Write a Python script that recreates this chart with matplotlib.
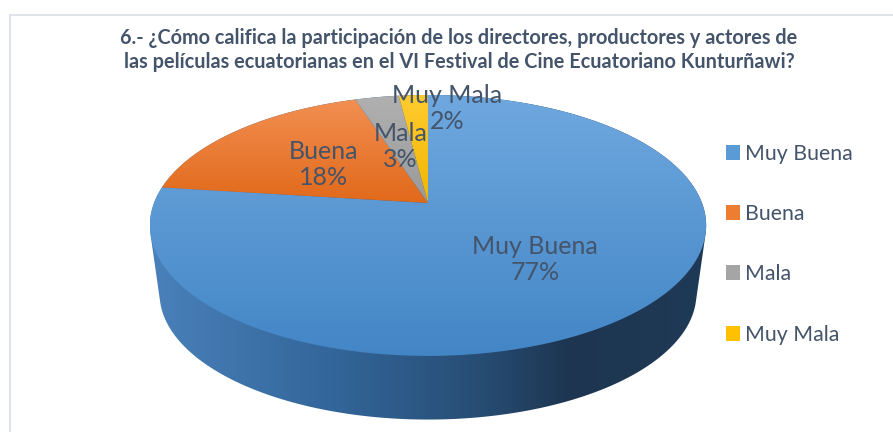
import numpy as np
import matplotlib.pyplot as plt
from matplotlib.patches import Polygon, Patch
from matplotlib.colors import to_rgb

plt.rcParams['font.family'] = ['Lato', 'DejaVu Sans']

categories = ['Muy Buena', 'Buena', 'Mala', 'Muy Mala']
percent = [77, 18, 3, 2]
title = ('6.- ¿Cómo califica la participación de los directores, productores y actores de\n'
         'las películas ecuatorianas en el VI Festival de Cine Ecuatoriano Kunturñawi?')

flat_colors = ['#5B9BD5', '#ED7D31', '#A5A5A5', '#FFC000']
# top/bottom shades for the gradient of each top face
top_shades = [('#6FA8DF', '#4386C6'), ('#F28F52', '#E1691A'),
              ('#B0B0B0', '#9A9A9A'), ('#FFCB30', '#F2B600')]
side_stops = [(150, '#4A81BA'), (330, '#33669A'), (480, '#274D74'),
              (570, '#1D3550'), (710, '#1F3A57')]
text_color = '#44546A'

W, H = 893, 432
fig = plt.figure(figsize=(W / 100, H / 100), dpi=100)
ax = fig.add_axes([0, 0, 1, 1])

# pie geometry in pixels (perspective view of a tilted disc)
cx, cy = 428, 203
a, b, k = 274, 126.6, 0.172
drop, shrink = 69, 0.965


def project(theta, r=1.0, dy=0.0, s=1.0):
    u, v = r * np.sin(theta), r * np.cos(theta)
    den = 1 + k * v
    return cx + a * s * u / den, cy + dy - b * s * v / den


def hull(pts):
    pts = sorted(set(map(tuple, np.round(pts, 3))))
    def cross(o, p, q):
        return (p[0] - o[0]) * (q[1] - o[1]) - (p[1] - o[1]) * (q[0] - o[0])
    lower, upper = [], []
    for p in pts:
        while len(lower) >= 2 and cross(lower[-2], lower[-1], p) <= 0:
            lower.pop()
        lower.append(p)
    for p in reversed(pts):
        while len(upper) >= 2 and cross(upper[-2], upper[-1], p) <= 0:
            upper.pop()
        upper.append(p)
    return np.array(lower[:-1] + upper[:-1])


def gradient_fill(pts, c0, c1, vertical=True, stops=None):
    patch = Polygon(pts, closed=True, facecolor='none', edgecolor='none')
    ax.add_patch(patch)
    x0, x1 = pts[:, 0].min(), pts[:, 0].max()
    y0, y1 = pts[:, 1].min(), pts[:, 1].max()
    n = 256
    if stops is not None:
        xs = np.linspace(x0, x1, n)
        sx = [s[0] for s in stops]
        cols = np.array([to_rgb(s[1]) for s in stops])
        img = np.stack([np.interp(xs, sx, cols[:, j]) for j in range(3)], axis=-1)[None, :, :]
    else:
        t = np.linspace(0, 1, n)[:, None]
        img = (1 - t) * np.array(to_rgb(c0)) + t * np.array(to_rgb(c1))
        img = img[:, None, :] if vertical else img[None, :, :]
    im = ax.imshow(img, extent=(x0, x1, y1, y0), origin='upper', aspect='auto',
                   interpolation='bilinear', zorder=2)
    im.set_clip_path(patch)


# side of the cylinder
th = np.linspace(0, 2 * np.pi, 400)
top_x, top_y = project(th)
bot_x, bot_y = project(th, dy=drop, s=shrink)
side = hull(np.concatenate([np.column_stack([top_x, top_y]),
                            np.column_stack([bot_x, bot_y])]))
gradient_fill(side, None, None, stops=side_stops)

# top faces
frac = np.array(percent) / sum(percent)
edges = np.concatenate([[0], np.cumsum(frac)]) * 2 * np.pi
for i in range(len(categories)):
    t = np.linspace(edges[i], edges[i + 1], max(3, int(frac[i] * 400)))
    xs, ys = project(t)
    pts = np.column_stack([np.r_[cx, xs], np.r_[cy, ys]])
    gradient_fill(pts, *top_shades[i])

# data labels (name line and percent line)
label_r = [0.55, 0.5, 0.5, 0.86]
label_dx = [0, -4, 0, 32]
for i, cat in enumerate(categories):
    mid = (edges[i] + edges[i + 1]) / 2
    lx, ly = project(mid, r=label_r[i])
    lx += label_dx[i]
    ax.text(lx, ly - 13, cat, ha='center', va='center',
            fontsize=18, color=text_color, zorder=5)
    ax.text(lx, ly + 13, f'{percent[i]}%', ha='center', va='center',
            fontsize=18, color=text_color, zorder=5)

ax.text(459, 50, title, ha='center', va='center', fontsize=14.3, fontweight='bold',
        color=text_color, linespacing=1.2, zorder=6)

handles = [Patch(facecolor=c, edgecolor='none') for c in flat_colors]
leg = ax.legend(handles, categories, loc='upper left', bbox_to_anchor=(717 / W, 1 - 135 / H),
                frameon=False, fontsize=15.3, handlelength=0.7, handleheight=0.7,
                handletextpad=0.2, labelspacing=1.9, borderaxespad=0)
for txt in leg.get_texts():
    txt.set_color(text_color)

# chart area border
ax.plot([10, W], [15, 15], color='#D9DEE6', lw=1.2, zorder=1)
ax.plot([10, 10], [15, H], color='#D9DEE6', lw=1.2, zorder=1)

ax.set_xlim(0, W)
ax.set_ylim(H, 0)
ax.axis('off')
fig.savefig('out.png', dpi=100)
